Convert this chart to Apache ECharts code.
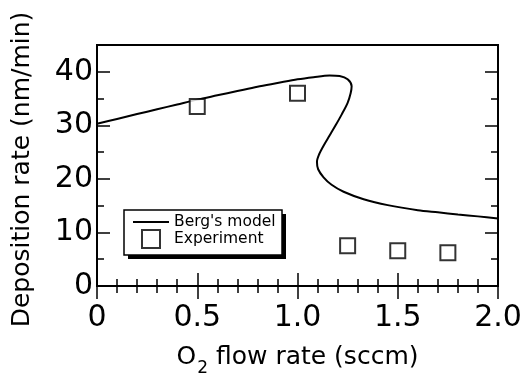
<!DOCTYPE html>
<html>
<head>
<meta charset="utf-8">
<script src="https://cdn.jsdelivr.net/npm/echarts@6/dist/echarts.min.js"></script>
<style>
html, body { margin: 0; padding: 0; background: #fff; }
#chart { width: 531px; height: 373px; }
</style>
</head>
<body>
<div id="chart"></div>
<script>
// Berg's model curve (S-shaped, multivalued, so kept as x/y pairs in drawing order)
var modelX = [0, 0.1, 0.2, 0.3, 0.4, 0.5, 0.6, 0.7, 0.8, 0.9, 1.0, 1.08, 1.16, 1.21, 1.25, 1.27, 1.265, 1.25, 1.22, 1.19, 1.16, 1.13, 1.108, 1.097, 1.103, 1.13, 1.17, 1.23, 1.33, 1.45, 1.6, 1.7, 1.8, 1.9, 2.0];
var modelY = [30.3, 31.2, 32.1, 33.0, 33.9, 34.8, 35.6, 36.4, 37.2, 37.9, 38.6, 39.0, 39.3, 39.2, 38.6, 37.3, 36.0, 34.2, 32.0, 30.0, 28.1, 26.2, 24.6, 23.2, 21.8, 20.3, 18.9, 17.6, 16.2, 15.1, 14.15, 13.75, 13.35, 13.0, 12.6];

// experiment points
var expX = [0.5, 1.0, 1.25, 1.5, 1.75];
var expY = [33.5, 36.0, 7.5, 6.6, 6.2];

var xTicks = { min: 0, max: 2, interval: 0.5 };
var yTicks = { min: 0, max: 45, interval: 10 };

var modelData = [];
for (var i = 0; i < modelX.length; i++) {
    modelData.push([modelX[i], modelY[i]]);
}
var expData = [];
for (var j = 0; j < expX.length; j++) {
    expData.push([expX[j], expY[j]]);
}

var FONT = 'DejaVu Sans';

function xLabel(v) {
    if (v === 0) return '0';
    return v.toFixed(1);
}

var chart = echarts.init(document.getElementById('chart'));

var option = {
    animation: false,
    backgroundColor: '#fff',
    textStyle: { fontFamily: FONT, color: '#000' },
    grid: {
        left: 97, right: 33, top: 45, bottom: 87,
        outerBoundsMode: 'none',
        show: true, borderColor: '#000', borderWidth: 2, backgroundColor: 'transparent'
    },
    graphic: [
        // legend box with hard drop shadow
        { type: 'rect', z: 1, shape: { x: 128, y: 214, width: 158, height: 45 }, style: { fill: '#000' } },
        { type: 'rect', z: 2, shape: { x: 124, y: 210, width: 158, height: 45 }, style: { fill: '#fff', stroke: '#000', lineWidth: 1.5 } }
    ],
    legend: {
        z: 10,
        orient: 'vertical',
        left: 133, top: 214,
        itemWidth: 36, itemHeight: 18, itemGap: -1,
        padding: 0,
        symbolKeepAspect: true,
        textStyle: { fontFamily: FONT, fontSize: 15.5, color: '#000' },
        data: [
            { name: "Berg's model", icon: 'path://M0,0 h100 v6 h-100 z', itemStyle: { color: '#000', borderWidth: 0 } },
            { name: 'Experiment', icon: 'path://M0,0 h10 v10 h-10 z', itemStyle: { color: '#fff', borderColor: '#000', borderWidth: 2 } }
        ]
    },
    xAxis: [
        {
            type: 'value', min: xTicks.min, max: xTicks.max, interval: xTicks.interval,
            position: 'bottom',
            axisLine: { show: true, lineStyle: { color: '#000', width: 2 } },
            axisTick: { inside: true, length: 13, lineStyle: { color: '#000', width: 1.5 } },
            minorTick: { show: true, splitNumber: 5, length: 7, lineStyle: { color: '#000', width: 1.5 } },
            splitLine: { show: false },
            axisLabel: { fontFamily: FONT, fontSize: 30, color: '#000', margin: 17, formatter: xLabel },
            name: '{main|O}{sub|2}{main| flow rate (sccm)}',
            nameLocation: 'middle',
            nameGap: 59,
            nameTextStyle: {
                fontFamily: FONT, fontSize: 25, color: '#000',
                rich: {
                    main: { fontFamily: FONT, fontSize: 25, color: '#000', verticalAlign: 'top' },
                    sub: { fontFamily: FONT, fontSize: 17, color: '#000', verticalAlign: 'top', padding: [15, 0, 0, 1] }
                }
            }
        },
        {
            type: 'value', min: xTicks.min, max: xTicks.max, interval: xTicks.interval,
            position: 'top',
            axisLine: { show: true, lineStyle: { color: '#000', width: 2 } },
            axisTick: { inside: true, length: 13, lineStyle: { color: '#000', width: 1.5 } },
            minorTick: { show: true, splitNumber: 5, length: 7, lineStyle: { color: '#000', width: 1.5 } },
            splitLine: { show: false },
            axisLabel: { show: false }
        }
    ],
    yAxis: [
        {
            type: 'value', min: yTicks.min, max: yTicks.max, interval: yTicks.interval,
            position: 'left',
            axisLine: { show: true, lineStyle: { color: '#000', width: 2 } },
            axisTick: { inside: true, length: 13, lineStyle: { color: '#000', width: 1.5 } },
            splitLine: { show: false },
            axisLabel: { fontFamily: FONT, fontSize: 30, color: '#000', margin: 4, showMaxLabel: false },
            name: 'Deposition rate (nm/min)',
            nameLocation: 'middle',
            nameRotate: 90,
            nameGap: 62,
            nameTextStyle: { fontFamily: FONT, fontSize: 25, color: '#000', padding: [0, 8, 0, 0] }
        },
        {
            type: 'value', min: yTicks.min, max: yTicks.max, interval: yTicks.interval / 2,
            position: 'left',
            axisLine: { show: false },
            axisTick: { inside: true, length: 7, lineStyle: { color: '#000', width: 1.5 } },
            splitLine: { show: false },
            axisLabel: { show: false }
        },
        {
            type: 'value', min: yTicks.min, max: yTicks.max, interval: yTicks.interval,
            position: 'right',
            axisLine: { show: true, lineStyle: { color: '#000', width: 2 } },
            axisTick: { inside: true, length: 13, lineStyle: { color: '#000', width: 1.5 } },
            splitLine: { show: false },
            axisLabel: { show: false }
        },
        {
            type: 'value', min: yTicks.min, max: yTicks.max, interval: yTicks.interval / 2,
            position: 'right',
            axisLine: { show: false },
            axisTick: { inside: true, length: 7, lineStyle: { color: '#000', width: 1.5 } },
            splitLine: { show: false },
            axisLabel: { show: false }
        }
    ],
    series: [
        {
            name: "Berg's model",
            type: 'line',
            data: modelData,
            smooth: 0.3,
            symbol: 'none',
            lineStyle: { color: '#000', width: 2 },
            itemStyle: { color: '#000' },
            z: 3
        },
        {
            name: 'Experiment',
            type: 'scatter',
            data: expData,
            symbol: 'rect',
            symbolSize: 15,
            itemStyle: { color: '#fff', borderColor: '#000', borderWidth: 2 },
            z: 4
        }
    ]
};

chart.setOption(option);
</script>
</body>
</html>
